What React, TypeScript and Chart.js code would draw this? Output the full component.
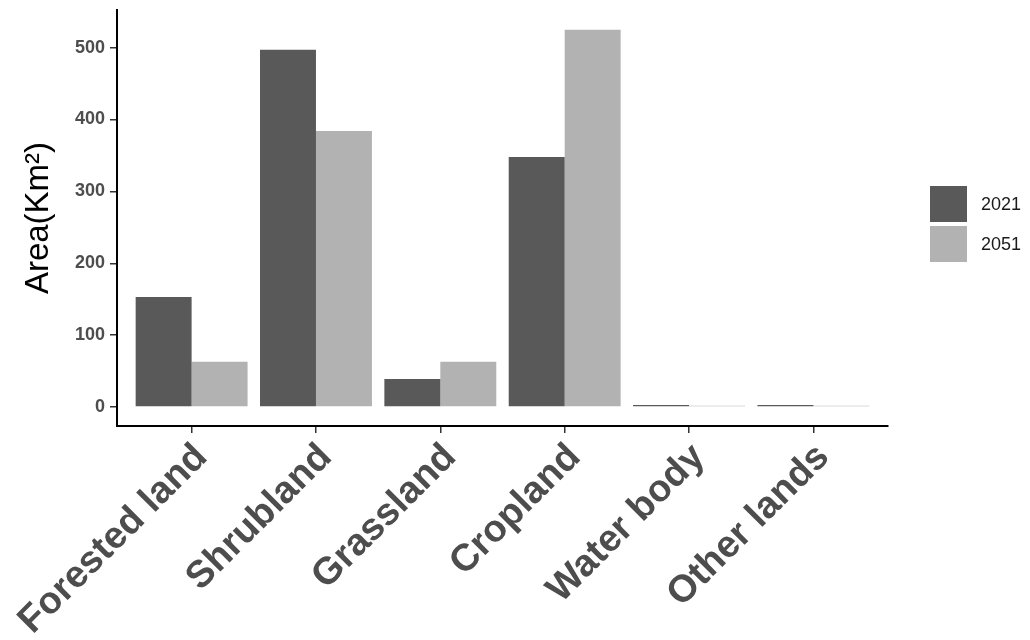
import React, { useEffect, useRef } from 'react';
import { Chart, registerables } from 'chart.js';

Chart.register(...registerables);

const categories = ['Forested land', 'Shrubland', 'Grassland', 'Cropland', 'Water body', 'Other lands'];
const seriesNames = ['2021', '2051'];
const values2021 = [153, 497, 39, 348, 3, 3];
const values2051 = [63, 384, 63, 525, 2, 2];
const seriesColors = ['#595959', '#b2b2b2'];
const yTicks = [0, 100, 200, 300, 400, 500];
const yTitle = 'Area(Km²)';

const FONT = '"Liberation Sans", Arial, Helvetica, sans-serif';

const sideLegend = {
  id: 'sideLegend',
  afterDraw(chart: any) {
    const ctx = chart.ctx;
    const { top, bottom, right } = chart.chartArea;
    const ds = chart.data.datasets;
    const box = 36;
    const gap = 4;
    const total = ds.length * box + (ds.length - 1) * gap;
    let y = (top + bottom) / 2 - total / 2 + 6;
    const x = right + 42;
    ctx.save();
    ctx.font = `18px ${FONT}`;
    ctx.textBaseline = 'middle';
    ctx.textAlign = 'left';
    ds.forEach((d: any) => {
      ctx.fillStyle = d.backgroundColor;
      ctx.fillRect(x, y, box + 1, box);
      ctx.fillStyle = '#1a1a1a';
      ctx.fillText(d.label, x + box + 15, y + box / 2 + 1);
      y += box + gap;
    });
    ctx.restore();
  },
};

export default function App() {
  const canvasRef = useRef<HTMLCanvasElement | null>(null);

  useEffect(() => {
    if (!canvasRef.current) return;
    const seriesValues = [values2021, values2051];
    const chart = new Chart(canvasRef.current, {
      type: 'bar',
      data: {
        datasets: seriesNames.map((name, s) => ({
          label: name,
          data: seriesValues[s].map((v, i) => ({ x: i + 1, y: v })),
          backgroundColor: seriesColors[s],
          borderWidth: 0,
          categoryPercentage: 0.9,
          barPercentage: 1.0,
        })),
      },
      options: {
        animation: false,
        responsive: true,
        maintainAspectRatio: false,
        layout: { padding: { top: 10, right: 142, bottom: 0, left: 0 } },
        plugins: {
          legend: { display: false },
          tooltip: { enabled: false },
        },
        scales: {
          x: {
            type: 'linear',
            offset: false,
            min: 0.4,
            max: 6.6,
            afterBuildTicks: (scale: any) => {
              scale.ticks = categories.map((_, i) => ({ value: i + 1 }));
            },
            afterFit: (scale: any) => {
              scale.height = 214;
              scale.paddingLeft = 0;
              scale.paddingRight = 0;
            },
            ticks: {
              autoSkip: false,
              minRotation: 45,
              maxRotation: 45,
              padding: 2,
              labelOffset: 10,
              color: '#4d4d4d',
              font: { family: FONT, size: 38, weight: 'bold' },
              callback: (v: any) => categories[Math.round(Number(v)) - 1] ?? '',
            },
            grid: {
              display: true,
              offset: false,
              drawOnChartArea: false,
              drawTicks: true,
              tickLength: 7,
              color: '#333333',
              lineWidth: 1.5,
            },
            border: { display: true, color: '#000000', width: 2 },
          },
          y: {
            type: 'linear',
            min: -26.3,
            max: 552.3,
            afterBuildTicks: (scale: any) => {
              scale.ticks = yTicks.map((v) => ({ value: v }));
            },
            afterFit: (scale: any) => {
              scale.width = 117;
              scale.paddingTop = 0;
              scale.paddingBottom = 0;
            },
            ticks: {
              padding: 5,
              color: '#4d4d4d',
              font: { family: FONT, size: 18, weight: 'bold' },
              callback: (v: any) => String(v),
            },
            grid: {
              display: true,
              drawOnChartArea: false,
              drawTicks: true,
              tickLength: 7,
              color: '#333333',
              lineWidth: 1.5,
            },
            border: { display: true, color: '#000000', width: 2 },
            title: {
              display: true,
              text: yTitle,
              color: '#000000',
              font: { family: FONT, size: 33, weight: 'normal', lineHeight: 1 },
              padding: { top: 22, bottom: 0 },
            },
          },
        },
      },
      plugins: [sideLegend],
    } as any);
    return () => chart.destroy();
  }, []);

  return (
    <div style={{ position: 'absolute', left: 0, top: 0, width: 1030, height: 640, background: '#ffffff' }}>
      <canvas ref={canvasRef} />
    </div>
  );
}
